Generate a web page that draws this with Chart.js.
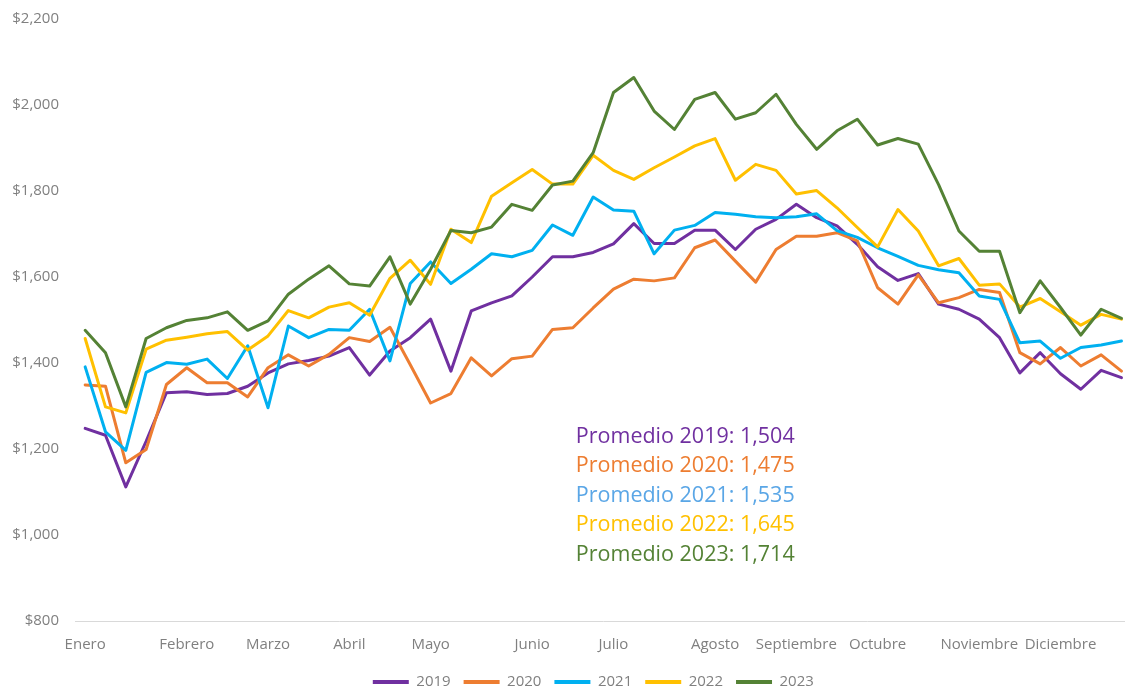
<!DOCTYPE html>
<html>
<head>
<meta charset="utf-8">
<script src="https://cdn.jsdelivr.net/npm/chart.js@4/dist/chart.umd.min.js"></script>
<style>
  html, body { margin: 0; padding: 0; background: #ffffff; overflow: hidden; }
  #wrap { width: 1136px; height: 690px; }
</style>
</head>
<body>
<div id="wrap"><canvas id="c" width="1136" height="690"></canvas></div>
<script>
// ---------- DATA ----------
const weeks = Array.from({length: 52}, (_, i) => String(i + 1));
const monthNames = ['Enero','Febrero','Marzo','Abril','Mayo','Junio','Julio','Agosto','Septiembre','Octubre','Noviembre','Diciembre'];
const monthStartWeek = [0, 5, 9, 13, 17, 22, 26, 31, 35, 39, 44, 48];
const yTicks = [800, 1000, 1200, 1400, 1600, 1800, 2000, 2200];

const years = ['2019', '2020', '2021', '2022', '2023'];

const s2019 = [1248,1232,1112,1218,1331,1333,1327,1329,1346,1377,1398,1406,1416,1436,1372,1428,1459,1502,1381,1521,1540,1556,1600,1647,1647,1657,1677,1724,1678,1678,1709,1709,1664,1711,1734,1769,1738,1719,1676,1624,1592,1608,1537,1525,1502,1459,1377,1424,1375,1339,1383,1366];
const s2020 = [1349,1346,1168,1199,1350,1389,1354,1354,1321,1389,1419,1393,1420,1459,1450,1483,1396,1307,1329,1412,1370,1410,1416,1478,1482,1528,1572,1595,1591,1598,1668,1686,1637,1588,1664,1695,1695,1703,1684,1575,1537,1605,1540,1552,1571,1564,1424,1398,1436,1393,1419,1381];
const s2021 = [1391,1240,1197,1378,1401,1397,1409,1364,1440,1296,1486,1459,1478,1476,1525,1405,1585,1635,1585,1618,1654,1647,1662,1721,1697,1786,1756,1753,1654,1709,1720,1750,1746,1740,1738,1740,1747,1708,1692,1668,1648,1627,1617,1610,1556,1548,1447,1451,1411,1436,1442,1451];
const s2022 = [1457,1298,1284,1432,1453,1460,1468,1473,1430,1463,1522,1505,1530,1540,1511,1597,1639,1583,1711,1680,1788,1819,1850,1816,1816,1883,1848,1827,1854,1879,1905,1922,1825,1862,1848,1793,1801,1761,1715,1670,1757,1707,1626,1643,1581,1584,1530,1550,1519,1488,1513,1502];
const s2023 = [1476,1424,1298,1457,1482,1499,1505,1519,1476,1498,1560,1595,1626,1584,1579,1647,1537,1618,1708,1703,1716,1769,1755,1814,1823,1889,2029,2064,1986,1943,2013,2029,1967,1982,2025,1955,1897,1940,1967,1907,1922,1909,1815,1707,1660,1660,1517,1591,1529,1465,1525,1504];

const averages = [1504, 1475, 1535, 1645, 1714];

// ---------- STYLE ----------
const lineColors = ['#7030A0', '#ED7D31', '#00B0F0', '#FFC000', '#548235'];
const textColors = ['#7030A0', '#ED7D31', '#5AA6E6', '#FFC000', '#548235'];
const FONT = "'Open Sans', 'Noto Sans', sans-serif";
const GREY = '#808080';

const seriesList = [s2019, s2020, s2021, s2022, s2023];
const monthTickLabels = weeks.map((_, i) => {
  const k = monthStartWeek.indexOf(i);
  return k >= 0 ? monthNames[k] : '';
});

const datasets = years.map((y, k) => ({
  label: y,
  data: seriesList[k],
  borderColor: lineColors[k],
  backgroundColor: lineColors[k],
  borderWidth: 3,
  pointRadius: 0,
  pointHoverRadius: 0,
  tension: 0,
  fill: false,
  borderJoinStyle: 'round',
  borderCapStyle: 'round',
  order: years.length - k
}));

const averagesPlugin = {
  id: 'averagesText',
  afterDatasetsDraw(chart) {
    const {ctx, scales: {x, y}} = chart;
    const x0 = x.getPixelForValue(24) + 3;
    const y0 = y.getPixelForValue(1228);
    ctx.save();
    ctx.font = "21.5px " + FONT;
    ctx.textAlign = 'left';
    ctx.textBaseline = 'middle';
    years.forEach((yr, k) => {
      ctx.fillStyle = textColors[k];
      ctx.fillText('Promedio ' + yr + ': ' + averages[k].toLocaleString('en-US'), x0, y0 + k * 29.4);
    });
    ctx.restore();
  }
};

const legendShift = {
  id: 'legendShift',
  afterLayout(chart) {
    if (chart.legend) { chart.legend.left -= 10; chart.legend.right -= 10; }
  }
};

new Chart(document.getElementById('c'), {
  type: 'line',
  data: { labels: weeks, datasets },
  plugins: [averagesPlugin, legendShift],
  options: {
    responsive: false,
    animation: false,
    layout: { padding: { top: 19, right: 3, left: 9, bottom: -9.5 } },
    plugins: {
      tooltip: { enabled: false },
      legend: {
        position: 'bottom',
        fullSize: false,
        labels: {
          boxWidth: 36,
          boxHeight: 4,
          padding: 13,
          color: GREY,
          font: { family: FONT, size: 15 },
          sort: (a, b) => a.datasetIndex - b.datasetIndex,
          generateLabels: (chart) => Chart.defaults.plugins.legend.labels.generateLabels(chart)
            .map(l => Object.assign(l, { lineWidth: 0 }))
        }
      }
    },
    scales: {
      x: {
        type: 'category',
        offset: true,
        grid: { display: false, drawTicks: false },
        border: { display: true, color: '#d9d9d9', width: 1 },
        afterFit: (s) => { s.height = 40.5; },
        ticks: {
          autoSkip: false,
          maxRotation: 0,
          minRotation: 0,
          padding: 14.5,
          color: GREY,
          font: { family: FONT, size: 15 },
          callback: (v, i) => monthTickLabels[i]
        }
      },
      y: {
        min: yTicks[0],
        max: yTicks[yTicks.length - 1],
        afterBuildTicks: (scale) => { scale.ticks = yTicks.map(v => ({ value: v })); },
        afterFit: (s) => { s.width = 66; },
        grid: { display: false, drawTicks: true, tickLength: 14 },
        border: { display: false },
        ticks: {
          padding: 2,
          color: GREY,
          font: { family: FONT, size: 15 },
          callback: (v) => '$' + Number(v).toLocaleString('en-US')
        }
      }
    }
  }
});
</script>
</body>
</html>
